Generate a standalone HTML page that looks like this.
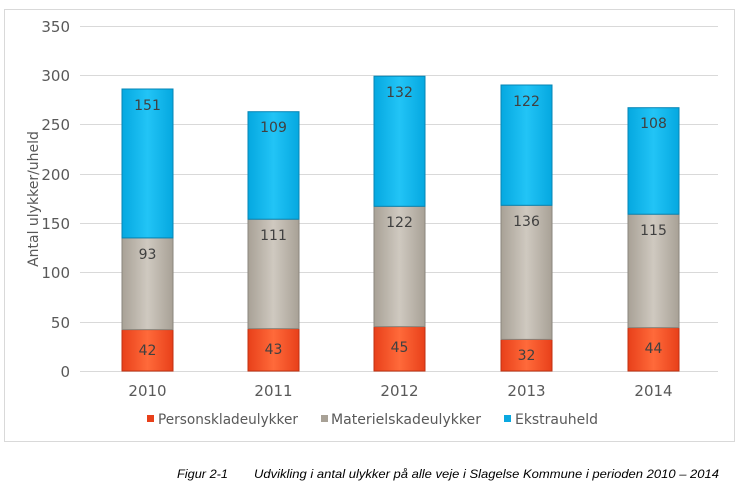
<!DOCTYPE html>
<html><head><meta charset="utf-8"><style>
body{margin:0;background:#fff;width:744px;height:484px;overflow:hidden;font-family:"Liberation Sans","DejaVu Sans",sans-serif}
</style></head><body>
<svg width="744" height="484" xmlns="http://www.w3.org/2000/svg" font-family="DejaVu Sans, Liberation Sans, sans-serif">
<defs>
<linearGradient id="r" x1="0" x2="1"><stop offset="0" stop-color="#e8401a"/><stop offset="0.5" stop-color="#ff6a3a"/><stop offset="1" stop-color="#e8401a"/></linearGradient>
<linearGradient id="g" x1="0" x2="1"><stop offset="0" stop-color="#a8a196"/><stop offset="0.5" stop-color="#cfc9c0"/><stop offset="1" stop-color="#a8a196"/></linearGradient>
<linearGradient id="b" x1="0" x2="1"><stop offset="0" stop-color="#05a8e0"/><stop offset="0.5" stop-color="#22c4f6"/><stop offset="1" stop-color="#05a8e0"/></linearGradient>
</defs>
<rect x="4.5" y="9.5" width="730" height="432" fill="#fff" stroke="#d9d9d9"/>
<g stroke="#d9d9d9" stroke-width="1">
<line x1="80" x2="718" y1="26.5" y2="26.5"/><line x1="80" x2="718" y1="75.5" y2="75.5"/><line x1="80" x2="718" y1="124.5" y2="124.5"/><line x1="80" x2="718" y1="174.5" y2="174.5"/><line x1="80" x2="718" y1="223.5" y2="223.5"/><line x1="80" x2="718" y1="272.5" y2="272.5"/><line x1="80" x2="718" y1="322.5" y2="322.5"/><line x1="80" x2="718" y1="371.5" y2="371.5"/>
</g>
<g font-size="15" fill="#595959" text-anchor="end">
<text x="70" y="32">350</text><text x="70" y="81">300</text><text x="70" y="130">250</text><text x="70" y="180">200</text><text x="70" y="229">150</text><text x="70" y="278">100</text><text x="70" y="328">50</text><text x="70" y="377">0</text>
</g>
<text transform="translate(38,199) rotate(-90)" font-size="14" fill="#595959" text-anchor="middle">Antal ulykker/uheld</text>
<g stroke-width="1">
<rect x="122" y="329.6" width="51" height="41.4" fill="url(#r)" stroke="#c03010"/>
<rect x="122" y="237.9" width="51" height="91.7" fill="url(#g)" stroke="#8a857c"/>
<rect x="122" y="89" width="51" height="148.9" fill="url(#b)" stroke="#0585b5"/>
<rect x="248" y="328.6" width="51" height="42.4" fill="url(#r)" stroke="#c03010"/>
<rect x="248" y="219.2" width="51" height="109.4" fill="url(#g)" stroke="#8a857c"/>
<rect x="248" y="111.7" width="51" height="107.5" fill="url(#b)" stroke="#0585b5"/>
<rect x="374" y="326.6" width="51" height="44.4" fill="url(#r)" stroke="#c03010"/>
<rect x="374" y="206.3" width="51" height="120.3" fill="url(#g)" stroke="#8a857c"/>
<rect x="374" y="76.2" width="51" height="130.1" fill="url(#b)" stroke="#0585b5"/>
<rect x="501" y="339.4" width="51" height="31.6" fill="url(#r)" stroke="#c03010"/>
<rect x="501" y="205.3" width="51" height="134.1" fill="url(#g)" stroke="#8a857c"/>
<rect x="501" y="85" width="51" height="120.3" fill="url(#b)" stroke="#0585b5"/>
<rect x="628" y="327.6" width="51" height="43.4" fill="url(#r)" stroke="#c03010"/>
<rect x="628" y="214.2" width="51" height="113.4" fill="url(#g)" stroke="#8a857c"/>
<rect x="628" y="107.7" width="51" height="106.5" fill="url(#b)" stroke="#0585b5"/>
</g>
<g font-size="14" fill="#404040" text-anchor="middle">
<text x="147.5" y="355">42</text><text x="147.5" y="259">93</text><text x="147.5" y="110">151</text>
<text x="273.5" y="354">43</text><text x="273.5" y="240">111</text><text x="273.5" y="132">109</text>
<text x="399.5" y="352">45</text><text x="399.5" y="227">122</text><text x="399.5" y="97">132</text>
<text x="526.5" y="360">32</text><text x="526.5" y="226">136</text><text x="526.5" y="106">122</text>
<text x="653.5" y="353">44</text><text x="653.5" y="235">115</text><text x="653.5" y="128">108</text>
</g>
<g font-size="15" fill="#595959" text-anchor="middle">
<text x="147.5" y="396">2010</text><text x="273.5" y="396">2011</text><text x="399.5" y="396">2012</text><text x="526.5" y="396">2013</text><text x="653.5" y="396">2014</text>
</g>
<g font-size="14" fill="#595959">
<rect x="147" y="415" width="7" height="7" fill="#e8401a"/><text x="158" y="424" textLength="140" lengthAdjust="spacingAndGlyphs">Personskladeulykker</text>
<rect x="321" y="415" width="7" height="7" fill="#a8a196"/><text x="331" y="424" textLength="150" lengthAdjust="spacingAndGlyphs">Materielskadeulykker</text>
<rect x="504" y="415" width="7" height="7" fill="#0aa8e0"/><text x="515" y="424" textLength="83" lengthAdjust="spacingAndGlyphs">Ekstrauheld</text>
</g>
<g font-size="12" font-style="italic" fill="#000" font-family="Liberation Sans, sans-serif">
<text x="177" y="478" textLength="51" lengthAdjust="spacingAndGlyphs">Figur 2-1</text>
<text x="254" y="478" textLength="465" lengthAdjust="spacingAndGlyphs">Udvikling i antal ulykker på alle veje i Slagelse Kommune i perioden 2010 – 2014</text>
</g>
</svg>
</body></html>
